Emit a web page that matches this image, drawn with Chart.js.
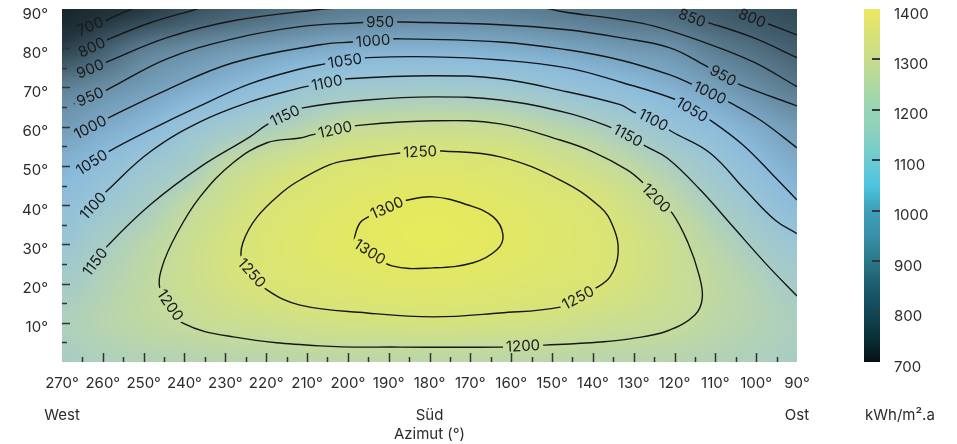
<!DOCTYPE html>
<html>
<head>
<meta charset="utf-8">
<title>Einstrahlung nach Azimut und Neigung</title>
<script src="https://cdn.jsdelivr.net/npm/chart.js@4.4.1/dist/chart.umd.min.js"></script>
<style>
  html, body { margin: 0; padding: 0; background: #fff; }
  #wrap { width: 957px; height: 444px; }
</style>
</head>
<body>
<div id="wrap"><canvas id="chart" width="957" height="444"></canvas></div>
<script>
  // ---- DATA ----
  const azimuthCols = [270, 260, 250, 240, 230, 220, 210, 200, 190, 180, 170, 160, 150, 140, 130, 120, 110, 100, 90];
  const tiltRows = [0, 10, 20, 30, 40, 50, 60, 70, 80, 90];

  // kWh/m².a per tilt row, columns follow azimuthCols
  const irrTilt0  = [1150, 1160, 1168, 1172, 1177, 1180, 1182, 1184, 1184, 1184, 1184, 1184, 1183, 1181, 1178, 1175, 1168, 1160, 1150];
  const irrTilt10 = [1158, 1175, 1190, 1200, 1212, 1218, 1228, 1233, 1236, 1240, 1237, 1234, 1229, 1218, 1210, 1202, 1185, 1170, 1155];
  const irrTilt20 = [1140, 1165, 1190, 1213, 1234, 1253, 1263, 1272, 1281, 1284, 1280, 1272, 1262, 1254, 1234, 1213, 1191, 1167, 1140];
  const irrTilt30 = [1106, 1147, 1178, 1209, 1237, 1260, 1279, 1297, 1310, 1318, 1312, 1295, 1278, 1260, 1238, 1210, 1178, 1142, 1108];
  const irrTilt40 = [1073, 1108, 1145, 1188, 1220, 1248, 1266, 1283, 1301, 1308, 1299, 1283, 1267, 1252, 1222, 1190, 1148, 1104, 1057];
  const irrTilt50 = [1031, 1067, 1107, 1138, 1191, 1218, 1239, 1254, 1262, 1266, 1262, 1254, 1235, 1214, 1187, 1151, 1107, 1060, 1017];
  const irrTilt60 = [977, 1009, 1041, 1090, 1123, 1150, 1175, 1199, 1206, 1209, 1207, 1199, 1179, 1159, 1127, 1090, 1054, 1013, 976];
  const irrTilt70 = [912, 944, 977, 1009, 1038, 1070, 1102, 1120, 1125, 1127, 1124, 1115, 1097, 1074, 1052, 1020, 984, 942, 900];
  const irrTilt80 = [742, 824, 902, 935, 961, 981, 1001, 1017, 1024, 1026, 1022, 1014, 1000, 983, 966, 950, 903, 867, 830];
  const irrTilt90 = [600, 670, 718, 781, 821, 852, 883, 905, 915, 920, 920, 912, 898, 882, 866, 850, 817, 790, 770];
  const irrGrid = [irrTilt0, irrTilt10, irrTilt20, irrTilt30, irrTilt40, irrTilt50, irrTilt60, irrTilt70, irrTilt80, irrTilt90];

  // contour lines as [azimuth, tilt] points
  const c700 = [[266.8, 83.9], [263.1, 85.6], [259.0, 87.2], [256.3, 88.5], [252.9, 90.0]];
  const c800 = [[266.6, 78.3], [262.7, 80.2], [259.0, 82.1], [248.4, 86.5], [236.9, 90.0]];
  const c800r = [[104.9, 89.5], [101.0, 87.7], [97.3, 86.3], [90, 83.4]];
  const c850 = [[119.4, 89.5], [115.7, 87.7], [112.5, 86.8], [100.7, 82.7], [90, 77.6]];
  const c900a = [[267.1, 73.0], [263.1, 74.7], [259.0, 76.5], [244.3, 82.7], [228.1, 87.0], [207.5, 89.8], [200.7, 90.3]];
  const c900b = [[151.7, 90.3], [147.3, 89.3], [133.3, 87.3], [125.2, 85.7], [113.0, 81.6], [100.7, 76.5], [90, 70.2]];
  const c950 = [[267.1, 65.8], [263.1, 67.6], [259.0, 69.4], [244.3, 77.3], [228.1, 82.4], [211.7, 85.5], [197.5, 86.5],
    [192.1, 86.7], [186.7, 86.7], [162.7, 86.0], [146.3, 84.7], [133.3, 82.7], [121.1, 80.1], [112.0, 75.3],
    [108.1, 73.0], [104.0, 70.7], [90, 65.3]];
  const c1000 = [[267.1, 57.7], [263.1, 59.8], [258.7, 62.2], [244.3, 69.4], [228.1, 76.3], [206.8, 80.9], [198.7, 81.6],
    [193.8, 81.9], [187.9, 82.4], [162.7, 81.6], [146.3, 79.6], [133.3, 77.0], [121.1, 73.2], [115.5, 70.7],
    [111.3, 68.6], [106.4, 66.1], [99.0, 61.7], [90, 54.6]];
  const c1050 = [[266.1, 48.6], [262.7, 50.9], [258.7, 53.6], [248.4, 59.2], [236.2, 65.3], [224.0, 70.9], [211.7, 74.7],
    [205.6, 76.0], [200.7, 76.8], [195.0, 77.6], [179.1, 77.8], [162.7, 77.0], [146.3, 75.0], [133.3, 71.4],
    [119.4, 66.8], [115.7, 64.3], [111.3, 61.7], [103.3, 55.4], [95.9, 47.7], [90, 41.3]];
  const c1100 = [[265.1, 36.7], [262.4, 39.8], [258.7, 43.9], [248.4, 53.6], [236.2, 61.2], [224.0, 66.3], [211.7, 69.9],
    [209.3, 70.4], [205.1, 71.2], [200.0, 72.2], [179.1, 73.0], [162.7, 72.2], [146.3, 68.9], [133.3, 65.6],
    [130.1, 63.8], [125.2, 61.7], [120.6, 58.7], [111.3, 53.3], [102.7, 43.9], [95.4, 36.2], [90, 32.7]];
  const c1150 = [[264.1, 22.4], [261.9, 25.5], [258.7, 29.8], [248.4, 40.1], [236.2, 49.7], [224.0, 57.4], [219.8, 60.5],
    [215.4, 62.8], [211.0, 64.8], [195.3, 66.8], [179.1, 67.6], [162.7, 66.8], [146.3, 63.5], [135.8, 59.9],
    [131.4, 57.7], [127.2, 55.1], [121.8, 52.0], [113.7, 43.9], [105.6, 34.4], [97.3, 24.7], [90, 16.8]];
  const c1200 = [[243.5, 14.5], [240.4, 9.9], [228.1, 6.4], [206.8, 4.1], [187.2, 3.8], [162.7, 3.8], [157.1, 4.1],
    [151.7, 4.3], [138.2, 5.1], [130.9, 5.9], [121.8, 7.9], [115.0, 12.0], [113.2, 16.3], [114.0, 22.2],
    [116.7, 30.4], [120.6, 38.0], [124.5, 41.8], [127.7, 45.7], [131.6, 49.0], [140.0, 53.6], [148.0, 56.6],
    [162.7, 60.7], [179.1, 61.5], [198.7, 60.2], [203.1, 59.2], [208.8, 57.9], [211.7, 57.1], [219.8, 55.9],
    [228.1, 50.8], [236.2, 42.1], [241.8, 32.9], [245.5, 24.2], [246.0, 18.4], [243.5, 14.5]];
  const c1250 = [[223.5, 22.7], [219.8, 18.4], [211.7, 14.5], [195.3, 12.5], [179.1, 11.5], [162.7, 12.5], [148.0, 14.0],
    [143.6, 16.4], [140.0, 18.4], [135.8, 21.7], [133.8, 27.8], [135.0, 34.4], [138.2, 39.5], [148.0, 46.4],
    [162.7, 52.3], [176.9, 53.8], [182.3, 53.6], [187.2, 53.3], [199.5, 51.5], [204.4, 50.3], [211.7, 46.4],
    [215.9, 43.4], [222.2, 37.0], [225.7, 30.4], [225.9, 25.5], [223.5, 22.7]];
  const c1300 = [[190.4, 39.3], [186.0, 41.1], [179.1, 42.1], [170.8, 40.1], [164.4, 37.0], [162.0, 32.4], [163.5, 28.6],
    [169.3, 25.3], [179.1, 24.0], [189.2, 24.5], [194.6, 28.1], [198.2, 30.6], [198.2, 32.4], [197.0, 35.5],
    [195.0, 37.0], [190.4, 39.3]];

  const contourLines = [
    { level: 700, pts: c700 }, { level: 800, pts: c800 }, { level: 800, pts: c800r }, { level: 850, pts: c850 },
    { level: 900, pts: c900a }, { level: 900, pts: c900b }, { level: 950, pts: c950 }, { level: 1000, pts: c1000 },
    { level: 1050, pts: c1050 }, { level: 1100, pts: c1100 }, { level: 1150, pts: c1150 }, { level: 1200, pts: c1200 },
    { level: 1250, pts: c1250 }, { level: 1300, pts: c1300 }
  ];

  // [level, azimuth, tilt] of each inline label
  const contourLabels = [
    [700, 263.1, 85.6], [800, 262.7, 80.2], [900, 263.1, 74.7], [950, 263.1, 67.6], [1000, 263.1, 59.8],
    [1050, 262.7, 50.9], [1100, 262.4, 39.8], [1150, 261.9, 25.5],
    [950, 192.1, 86.7], [1000, 193.8, 81.9], [1050, 200.7, 76.8], [1100, 205.1, 71.2], [1150, 215.4, 62.8],
    [1200, 203.1, 59.2], [1250, 182.3, 53.6], [1300, 190.4, 39.3], [1300, 194.6, 28.1], [1250, 223.5, 22.7],
    [1200, 243.5, 14.5], [1200, 157.1, 4.1], [1250, 143.6, 16.4], [1200, 124.5, 41.8], [1150, 131.4, 57.7],
    [1100, 125.2, 61.7], [1050, 115.7, 64.3], [1000, 111.3, 68.6], [950, 108.1, 73.0], [850, 115.7, 87.7],
    [800, 101.0, 87.7]
  ];

  const directionNotes = [[270, 'West'], [180, 'Süd'], [90, 'Ost']];
  const cbMin = 700, cbMax = 1400;
  const cbTickMarks = [800, 900, 1000, 1100, 1200, 1300];

  // ---- STYLE ----
  const FONT = 'Inter, "Noto Sans", sans-serif';
  const TEXT = '#2b2b2b';
  const heatStops = [
    [600, '#18262d'], [700, '#22343d'], [800, '#3b5563'], [850, '#4a6778'], [900, '#5a7b8f'], [950, '#6a90a8'],
    [1000, '#7aa6c3'], [1050, '#8bbbdb'], [1100, '#98c4d6'], [1150, '#a9cdc4'], [1200, '#c4db9b'],
    [1250, '#d9e477'], [1300, '#e3e862'], [1340, '#e9ec57']
  ];
  const barStops = [
    [700, '#041014'], [750, '#0a3038'], [800, '#104858'], [850, '#1c5c6c'], [900, '#2a7888'], [950, '#3890a8'],
    [1000, '#3ca0b8'], [1050, '#4cc4e0'], [1100, '#6ccad0'], [1150, '#88d0c0'], [1200, '#98d4b4'],
    [1250, '#b0d8a0'], [1300, '#c8dc8c'], [1400, '#ece860']
  ];

  function hexRgb(h) {
    return [parseInt(h.slice(1, 3), 16), parseInt(h.slice(3, 5), 16), parseInt(h.slice(5, 7), 16)];
  }
  const heatRgb = heatStops.map(s => [s[0], hexRgb(s[1])]);

  function colorAt(v) {
    if (v <= heatRgb[0][0]) return heatRgb[0][1];
    for (let i = 1; i < heatRgb.length; i++) {
      if (v <= heatRgb[i][0]) {
        const [v0, c0] = heatRgb[i - 1], [v1, c1] = heatRgb[i];
        const t = (v - v0) / (v1 - v0);
        return [c0[0] + (c1[0] - c0[0]) * t, c0[1] + (c1[1] - c0[1]) * t, c0[2] + (c1[2] - c0[2]) * t];
      }
    }
    return heatRgb[heatRgb.length - 1][1];
  }

  // ---- GRID SAMPLING (smooth shading between grid nodes) ----
  function cubic(p0, p1, p2, p3, t) {
    return p1 + 0.5 * t * (p2 - p0 + t * (2 * p0 - 5 * p1 + 4 * p2 - p3 + t * (3 * (p1 - p2) + p3 - p0)));
  }
  function sampleIrr(az, tilt) {
    const nc = azimuthCols.length, nr = tiltRows.length;
    const fx = (az - azimuthCols[0]) / (azimuthCols[1] - azimuthCols[0]);
    const fy = (tilt - tiltRows[0]) / (tiltRows[1] - tiltRows[0]);
    const ix = Math.min(Math.max(Math.floor(fx), 0), nc - 2);
    const iy = Math.min(Math.max(Math.floor(fy), 0), nr - 2);
    const tx = fx - ix, ty = fy - iy;
    const g = (r, c) => irrGrid[Math.min(Math.max(r, 0), nr - 1)][Math.min(Math.max(c, 0), nc - 1)];
    const rows = [];
    for (let m = -1; m <= 2; m++) {
      rows.push(cubic(g(iy + m, ix - 1), g(iy + m, ix), g(iy + m, ix + 1), g(iy + m, ix + 2), tx));
    }
    return cubic(rows[0], rows[1], rows[2], rows[3], ty);
  }

  let heatCache = null;
  function buildHeat(chart) {
    const a = chart.chartArea, xs = chart.scales.x, ys = chart.scales.y;
    const w = Math.round(a.right - a.left), h = Math.round(a.bottom - a.top);
    const off = document.createElement('canvas');
    off.width = w; off.height = h;
    const octx = off.getContext('2d');
    const img = octx.createImageData(w, h);
    for (let j = 0; j < h; j++) {
      const tilt = ys.getValueForPixel(a.top + j + 0.5);
      for (let i = 0; i < w; i++) {
        const az = xs.getValueForPixel(a.left + i + 0.5);
        const c = colorAt(sampleIrr(az, tilt));
        const k = (j * w + i) * 4;
        img.data[k] = c[0]; img.data[k + 1] = c[1]; img.data[k + 2] = c[2]; img.data[k + 3] = 255;
      }
    }
    octx.putImageData(img, 0, 0);
    return off;
  }

  // ---- CONTOUR LABELS ----
  function labelGeometry(chart) {
    const xs = chart.scales.x, ys = chart.scales.y;
    return contourLabels.map(([lvl, az, tilt]) => {
      const px = xs.getPixelForValue(az), py = ys.getPixelForValue(tilt);
      let best = null;
      contourLines.filter(c => c.level === lvl).forEach(c => {
        const pts = c.pts.map(p => [xs.getPixelForValue(p[0]), ys.getPixelForValue(p[1])]);
        pts.forEach((p, i) => {
          const d = (p[0] - px) ** 2 + (p[1] - py) ** 2;
          if (!best || d < best.d) best = { d, pts, i };
        });
      });
      const { pts, i } = best;
      const n = pts.length;
      const closed = pts[0][0] === pts[n - 1][0] && pts[0][1] === pts[n - 1][1];
      let a = pts[Math.max(i - 1, 0)], b = pts[Math.min(i + 1, n - 1)];
      if (closed && i === 0) a = pts[n - 2];
      if (closed && i === n - 1) b = pts[1];
      let ang = Math.atan2(b[1] - a[1], b[0] - a[0]);
      if (ang > Math.PI / 2) ang -= Math.PI;
      if (ang < -Math.PI / 2) ang += Math.PI;
      return { text: String(lvl), px, py, ang };
    });
  }

  const contourPlugin = {
    id: 'contour',
    beforeDatasetsDraw(chart) {
      const { ctx, chartArea: a } = chart;
      if (!heatCache) heatCache = buildHeat(chart);
      ctx.drawImage(heatCache, a.left, a.top);

      // keep the lines out of the label boxes
      const labels = labelGeometry(chart);
      chart.$labels = labels;
      ctx.save();
      ctx.font = '15px ' + FONT;
      ctx.beginPath();
      ctx.rect(0, 0, chart.width, chart.height);
      labels.forEach(l => {
        const hw = ctx.measureText(l.text).width / 2 + 3, hh = 7;
        const c = Math.cos(l.ang), s = Math.sin(l.ang);
        const pts = [[-hw, -hh], [hw, -hh], [hw, hh], [-hw, hh]]
          .map(([u, v]) => [l.px + u * c - v * s, l.py + u * s + v * c]);
        ctx.moveTo(pts[0][0], pts[0][1]);
        for (let k = 1; k < 4; k++) ctx.lineTo(pts[k][0], pts[k][1]);
        ctx.closePath();
      });
      ctx.clip('evenodd');
    },
    afterDatasetsDraw(chart) {
      const { ctx, chartArea: a, scales: { x, y } } = chart;
      ctx.restore();

      ctx.save();
      ctx.fillStyle = '#1a1a1a';
      ctx.font = '15px ' + FONT;
      ctx.textAlign = 'center';
      ctx.textBaseline = 'middle';
      chart.$labels.forEach(l => {
        ctx.save();
        ctx.translate(l.px, l.py);
        ctx.rotate(l.ang);
        ctx.fillText(l.text, 0, 0.5);
        ctx.restore();
      });
      ctx.restore();

      // inward tick marks
      ctx.save();
      ctx.strokeStyle = '#333';
      ctx.lineWidth = 1.5;
      ctx.beginPath();
      for (let v = 5; v < 90; v += 5) {
        const py = Math.round(y.getPixelForValue(v)) + 0.5;
        ctx.moveTo(a.left, py);
        ctx.lineTo(a.left + (v % 10 === 0 ? 8 : 5), py);
      }
      for (let v = 95; v < 270; v += 5) {
        const px = Math.round(x.getPixelForValue(v)) + 0.5;
        ctx.moveTo(px, a.bottom);
        ctx.lineTo(px, a.bottom - (v % 10 === 0 ? 9 : 5));
      }
      ctx.stroke();
      ctx.restore();
    },
    afterDraw(chart) {
      const { ctx, chartArea: a, scales: { x, cb } } = chart;
      // colour bar
      const barL = cb.left + 67, barW = 16;
      const yTop = cb.getPixelForValue(cbMax), yBot = cb.getPixelForValue(cbMin);
      const grad = ctx.createLinearGradient(0, yBot, 0, yTop);
      barStops.forEach(s => grad.addColorStop((s[0] - cbMin) / (cbMax - cbMin), s[1]));
      ctx.save();
      ctx.fillStyle = grad;
      ctx.fillRect(barL, yTop, barW, yBot - yTop);
      ctx.strokeStyle = '#2f3a3c';
      ctx.lineWidth = 2;
      ctx.beginPath();
      cbTickMarks.forEach(v => {
        const py = Math.round(cb.getPixelForValue(v));
        ctx.moveTo(barL + 8, py);
        ctx.lineTo(barL + 16, py);
      });
      ctx.stroke();

      // direction names and unit
      ctx.fillStyle = TEXT;
      ctx.font = '15px ' + FONT;
      ctx.textBaseline = 'middle';
      ctx.textAlign = 'center';
      directionNotes.forEach(([az, name]) => ctx.fillText(name, x.getPixelForValue(az), a.bottom + 53));
      ctx.textAlign = 'left';
      ctx.fillText('kWh/m².a', barL + 1, a.bottom + 53);
      ctx.restore();
    }
  };

  // ---- CHART ----
  const datasets = contourLines.map(c => ({
    data: c.pts.map(p => ({ x: p[0], y: p[1] })),
    borderColor: '#161616',
    borderWidth: 1.4,
    pointRadius: 0,
    tension: 0.4,
    fill: false
  }));

  const tickFont = { family: FONT, size: 15 };
  const noVerticalPad = s => { s.paddingTop = 0; s.paddingBottom = 0; };

  new Chart(document.getElementById('chart'), {
    type: 'line',
    data: { datasets },
    plugins: [contourPlugin],
    options: {
      responsive: false,
      animation: false,
      events: [],
      layout: { padding: { top: 9, right: 0, bottom: 0, left: 0 } },
      plugins: { legend: { display: false }, tooltip: { enabled: false } },
      scales: {
        x: {
          type: 'linear',
          min: 90, max: 270,
          reverse: true,
          grid: { display: false, drawTicks: false },
          border: { display: false },
          ticks: {
            stepSize: 10, autoSkip: false, maxRotation: 0, padding: 12,
            color: TEXT, font: tickFont,
            callback: v => v + '°'
          },
          title: { display: true, text: 'Azimut (°)', color: TEXT, font: tickFont, padding: { top: 0, bottom: 1 } },
          afterFit: s => { s.height = 82; }
        },
        y: {
          type: 'linear',
          min: 0, max: 90,
          grid: { display: false, drawTicks: false },
          border: { display: false },
          ticks: {
            stepSize: 10, autoSkip: false, padding: 14, labelOffset: 5,
            color: TEXT, font: tickFont,
            callback: v => v === 0 ? '' : v + '°'
          },
          afterFit: s => { s.width = 62; noVerticalPad(s); }
        },
        cb: {
          type: 'linear',
          position: 'right',
          min: cbMin, max: cbMax,
          grid: { display: false, drawTicks: false },
          border: { display: false },
          ticks: {
            stepSize: 100, autoSkip: false, padding: 97, labelOffset: 5, color: TEXT, font: tickFont,
            callback: v => String(v)
          },
          afterFit: s => { s.width = 160; noVerticalPad(s); }
        }
      }
    }
  });
</script>
</body>
</html>
